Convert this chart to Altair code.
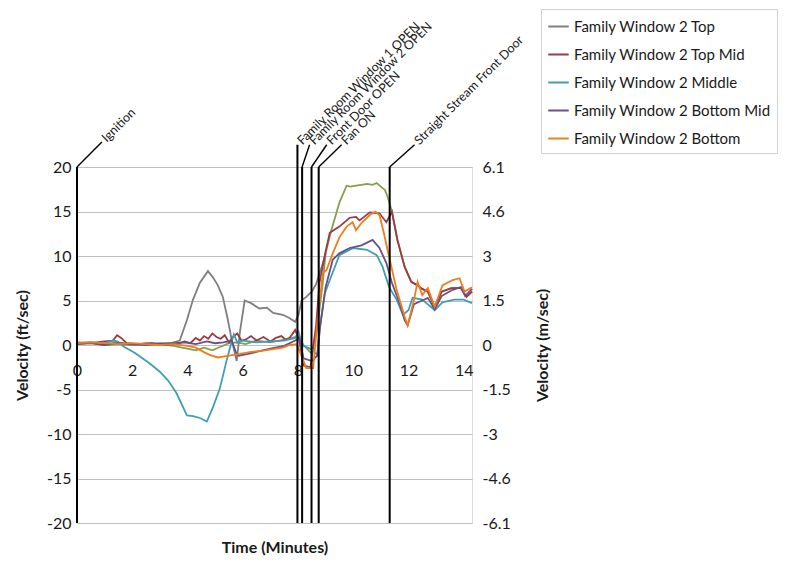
import altair as alt
import pandas as pd

FONT = "Lato"

# ---- series (time in minutes, velocity in ft/sec) ----
top_t = [0, 0.5, 1.0, 1.5, 2.0, 2.5, 3.0, 3.4, 3.72, 3.98, 4.2, 4.45, 4.74, 4.92, 5.1, 5.28, 5.45, 5.6, 5.78, 5.9,
         6.07, 6.3, 6.6, 6.87, 7.1, 7.45, 7.7, 7.9, 8.02, 8.13, 8.3, 8.5, 8.65, 8.78, 8.9, 9.0]
top_v = [0.2, 0.3, 0.1, 0.3, 0.0, 0.1, 0.2, 0.2, 0.5, 2.8, 5.1, 7.0, 8.3, 7.6, 6.7, 5.4, 3.0, 0.6, -1.8, 1.5,
         5.0, 4.7, 4.1, 4.2, 3.6, 3.4, 3.0, 2.6, 3.4, 5.0, 5.4, 6.0, 6.8, 8.0, 9.2, 10.3]

green_t = [0, 0.5, 1.0, 1.5, 2.0, 2.5, 3.0, 3.5, 3.8, 4.0, 4.3, 4.6, 4.9, 5.2, 5.5, 5.8, 6.1, 6.5, 7.0, 7.5, 7.8,
           8.0, 8.2, 8.5, 8.7, 8.9, 9.0, 9.2, 9.5, 9.76, 9.9, 10.1, 10.3, 10.5, 10.7, 10.85, 11.0, 11.15, 11.25,
           11.4, 11.6, 11.86, 12.1, 12.33, 12.5, 12.7, 12.95, 13.2, 13.55, 13.9, 14.1, 14.3]
green_v = [0.1, 0.2, 0.0, 0.1, 0.0, 0.2, 0.1, -0.1, -0.3, -0.4, -0.6, -0.3, -0.6, -0.2, 0.2, 0.3, 0.1, 0.5, 0.3, 0.6, 0.8,
           1.0, 0.0, -1.0, 2.0, 7.0, 10.3, 12.8, 16.0, 17.9, 17.8, 17.9, 18.0, 18.1, 18.0, 18.2, 17.8, 17.4, 16.6,
           15.0, 11.8, 8.8, 7.1, 6.7, 6.3, 6.0, 4.3, 6.0, 6.4, 6.4, 5.4, 6.0]

topmid_t = [0, 0.5, 1.0, 1.3, 1.45, 1.6, 1.8, 2.2, 2.7, 3.2, 3.6, 3.9, 4.1, 4.3, 4.45, 4.6, 4.75, 4.9, 5.05, 5.2,
            5.35, 5.5, 5.65, 5.8, 5.95, 6.1, 6.3, 6.5, 6.75, 7.0, 7.2, 7.4, 7.55, 7.7, 7.9, 8.05, 8.2, 8.45, 8.65,
            8.78, 9.0, 9.15, 9.5, 9.87, 10.1, 10.23, 10.6, 10.95, 11.2, 11.4, 11.6, 11.86, 12.1, 12.33, 12.5, 12.7,
            12.95, 13.2, 13.55, 13.9, 14.1, 14.3]
topmid_v = [0.3, 0.2, 0.4, 0.5, 1.1, 0.8, 0.2, 0.1, 0.2, 0.0, 0.1, 0.4, 0.2, 0.8, 0.5, 1.0, 0.7, 1.3, 0.9, 0.7,
            1.1, 0.3, 0.9, 1.3, 0.5, 0.6, 1.0, 0.5, 0.9, 0.4, 0.8, 1.0, 0.6, 0.8, 1.7, 0.5, -2.3, -2.5, 2.0,
            7.0, 10.5, 12.6, 13.3, 14.3, 14.4, 14.0, 14.9, 14.8, 13.8, 15.0, 11.8, 8.8, 7.1, 6.7, 6.3, 6.0,
            4.3, 6.0, 6.4, 6.4, 5.4, 6.0]

middle_t = [0, 0.5, 1.0, 1.3, 1.45, 1.7, 2.1, 2.6, 3.0, 3.3, 3.6, 3.98, 4.2, 4.45, 4.7, 4.92, 5.17, 5.42, 5.6, 5.68,
            5.8, 6.0, 6.5, 7.0, 7.5, 7.9, 8.02, 8.15, 8.5, 8.7, 8.78, 8.97, 9.2, 9.5, 10.0, 10.5, 10.85, 11.06, 11.3,
            11.57, 11.8, 12.0, 12.15, 12.5, 12.95, 13.23, 13.66, 14.0, 14.3]
middle_v = [0.2, 0.3, 0.2, 0.5, 0.4, -0.2, -0.9, -2.0, -3.0, -4.0, -5.4, -7.9, -8.0, -8.2, -8.6, -7.0, -4.9, -1.7, 0.4,
            1.2, 0.3, 0.5, 0.3, 0.4, 0.5, 0.8, 1.5, 0.0, -0.5, -1.1, 1.7, 5.8, 7.7, 10.1, 10.9, 10.7, 10.1, 8.8, 6.5,
            5.1, 3.4, 3.9, 5.3, 5.1, 3.9, 4.8, 5.1, 5.1, 4.7]

botmid_t = [0, 0.5, 1.0, 1.5, 2.0, 2.5, 3.0, 3.5, 3.9, 4.3, 4.7, 5.0, 5.3, 5.6, 5.75, 5.85, 6.2, 6.6, 7.0, 7.5, 7.9,
            8.05, 8.2, 8.5, 8.7, 8.8, 9.0, 9.26, 9.5, 9.87, 10.3, 10.5, 10.7, 10.95, 11.2, 11.4, 11.68, 11.86, 11.97,
            12.2, 12.5, 12.7, 12.95, 13.2, 13.6, 13.9, 14.05, 14.3]
botmid_v = [0.1, 0.2, 0.0, 0.2, 0.1, 0.0, 0.1, 0.2, 0.3, 0.1, 0.4, 0.2, 0.3, 0.5, -0.8, -1.2, -1.0, -0.7, -0.4, -0.1, 0.5,
            0.8, -1.5, -1.8, -1.2, 2.0, 6.5, 9.6, 10.3, 10.9, 11.2, 11.5, 11.8, 10.9, 9.2, 7.0, 4.7, 2.8, 2.2,
            4.6, 5.0, 5.3, 4.0, 5.5, 6.2, 6.5, 5.5, 6.3]

bottom_t = [0, 0.5, 1.0, 1.5, 2.0, 2.5, 3.0, 3.5, 4.0, 4.3, 4.6, 4.8, 5.1, 5.5, 5.9, 6.25, 6.8, 7.45, 7.7, 7.95, 8.1,
            8.3, 8.55, 8.7, 8.9, 9.03, 9.26, 9.5, 9.76, 9.98, 10.1, 10.3, 10.6, 10.8, 10.95, 11.1, 11.3, 11.57, 11.86,
            11.97, 12.2, 12.33, 12.5, 12.7, 12.95, 13.23, 13.6, 13.85, 14.03, 14.3]
bottom_v = [0.2, 0.3, 0.2, 0.1, 0.2, 0.1, 0.0, 0.1, -0.1, -0.3, -0.8, -1.1, -1.4, -1.2, -1.0, -0.8, -0.6, -0.3, 0.0, 0.1,
            -1.0, -2.6, -2.6, 2.5, 8.1, 8.4, 10.3, 12.1, 13.3, 13.8, 12.9, 13.7, 14.6, 15.0, 14.6, 12.7, 9.9, 6.2, 3.2,
            2.2, 5.1, 7.1, 5.6, 6.4, 4.3, 6.7, 7.3, 7.5, 6.0, 6.5]

legend_names = ["Family Window 2 Top", "Family Window 2 Top Mid", "Family Window 2 Middle",
                "Family Window 2 Bottom Mid", "Family Window 2 Bottom"]
extra_name = "Unlabeled trace"
all_names = [extra_name] + legend_names
all_colors = ["#86a04a", "#7f7f7f", "#9b3a46", "#3f9fb0", "#6a4f86", "#f07d1c"]

series_data = [
    (extra_name, green_t, green_v),
    (legend_names[0], top_t, top_v),
    (legend_names[1], topmid_t, topmid_v),
    (legend_names[2], middle_t, middle_v),
    (legend_names[3], botmid_t, botmid_v),
    (legend_names[4], bottom_t, bottom_v),
]

# ---- events ----
event_labels = ["Ignition", "Family Room Window 1 OPEN", "Family Room Window 2 OPEN",
                "Front Door OPEN", "Fan ON", "Straight Stream Front Door"]
event_times = [0, 7.98, 8.15, 8.49, 8.75, 11.32]
event_knee = [20, 22.5, 20.0, 20.0, 20.0, 20.0]
label_t = [0.9, 7.98, 8.42, 9.04, 9.58, 12.22]
label_v = [22.8, 22.5, 22.5, 22.5, 22.5, 22.5]

x_ticks = [0, 2, 4, 6, 8, 10, 12, 14]
y_ticks = [-20, -15, -10, -5, 0, 5, 10, 15, 20]
x_domain = [0, 14.3]
y_domain = [-20, 20]

rows = []
for name, ts, vs in series_data:
    for t, v in zip(ts, vs):
        rows.append({"series": name, "t": t, "v": v})
df = pd.DataFrame(rows)

ev = pd.DataFrame({"label": event_labels, "t": event_times, "knee": event_knee,
                   "lt": label_t, "lv": label_v, "base": [y_domain[0]] * len(event_times)})

xs = alt.Scale(domain=x_domain, nice=False, zero=False)
ys = alt.Scale(domain=y_domain, nice=False)

MINUS = "\u2212"

lines = alt.Chart(df).mark_line(strokeWidth=1.8).encode(
    x=alt.X("t:Q", scale=xs, axis=alt.Axis(values=x_ticks, offset=-178, ticks=False, domain=False, grid=False,
                                           labelFontSize=16, labelFont=FONT, labelColor="#1a1a1a",
                                           labelPadding=17, labelFlush=False, title=None)),
    y=alt.Y("v:Q", scale=ys, axis=alt.Axis(values=y_ticks, grid=True, gridColor="#bfbfbf", ticks=False,
                                           domain=False, labelFontSize=16, labelFont=FONT,
                                           labelColor="#1a1a1a", labelPadding=6,
                                           labelExpr=f"replace(format(datum.value, 'd'), '{MINUS}', '-')",
                                           title="Velocity (ft/sec)", titleFont=FONT, titleFontSize=16,
                                           titleFontWeight="bold", titleColor="#1a1a1a", titlePadding=16)),
    color=alt.Color("series:N", scale=alt.Scale(domain=all_names, range=all_colors),
                    legend=alt.Legend(values=legend_names, title=None, orient="none", legendX=464, legendY=-158,
                                      fillColor="white", strokeColor="#d0d0d0", padding=6,
                                      symbolType="stroke", symbolSize=420, symbolStrokeWidth=2,
                                      labelFont=FONT, labelFontSize=15, labelColor="#1a1a1a",
                                      labelLimit=400, rowPadding=8, labelOffset=4)),
    order=alt.Order("t:Q"),
)

vrules = alt.Chart(ev).mark_rule(color="black", strokeWidth=2).encode(
    x=alt.X("t:Q", scale=xs, axis=alt.Axis(orient="bottom", labels=False, ticks=False, domain=False, grid=False,
                                           title="Time (Minutes)", titleFont=FONT, titleFontSize=16,
                                           titleFontWeight="bold", titleColor="#1a1a1a", titlePadding=16)),
    y=alt.Y("base:Q", scale=ys, axis=alt.Axis(orient="right", values=y_ticks, grid=False, ticks=False,
                                              domain=False, labelFontSize=16, labelFont=FONT,
                                              labelColor="#1a1a1a", labelPadding=10,
                                              labelExpr=f"replace(format(datum.value * 0.3048, '.2~r'), '{MINUS}', '-')",
                                              title="Velocity (m/sec)", titleFont=FONT, titleFontSize=16,
                                              titleFontWeight="bold", titleColor="#1a1a1a", titleAngle=270,
                                              titlePadding=40)),
    y2="knee:Q",
)

leaders = alt.Chart(ev).mark_rule(color="black", strokeWidth=1.4).encode(
    x=alt.X("t:Q", scale=xs, axis=None),
    y=alt.Y("knee:Q", scale=ys, axis=None),
    x2="lt:Q",
    y2="lv:Q",
)

labels = alt.Chart(ev).mark_text(angle=315, align="left", baseline="middle", fontSize=12.5, font=FONT,
                                 color="#1a1a1a", dx=3).encode(
    x=alt.X("lt:Q", scale=xs, axis=None),
    y=alt.Y("lv:Q", scale=ys, axis=None),
    text="label:N",
)

chart = alt.layer(lines, vrules, leaders, labels).resolve_axis(
    x="independent", y="independent"
).properties(
    width=395, height=356,
    autosize=alt.AutoSizeParams(type="none"),
    padding={"left": 69, "top": 159, "right": 312, "bottom": 35},
).configure_view(stroke="#bfbfbf", strokeWidth=1).configure(font=FONT)

chart.save("out.html", embed_options={"renderer": "svg", "actions": False})
